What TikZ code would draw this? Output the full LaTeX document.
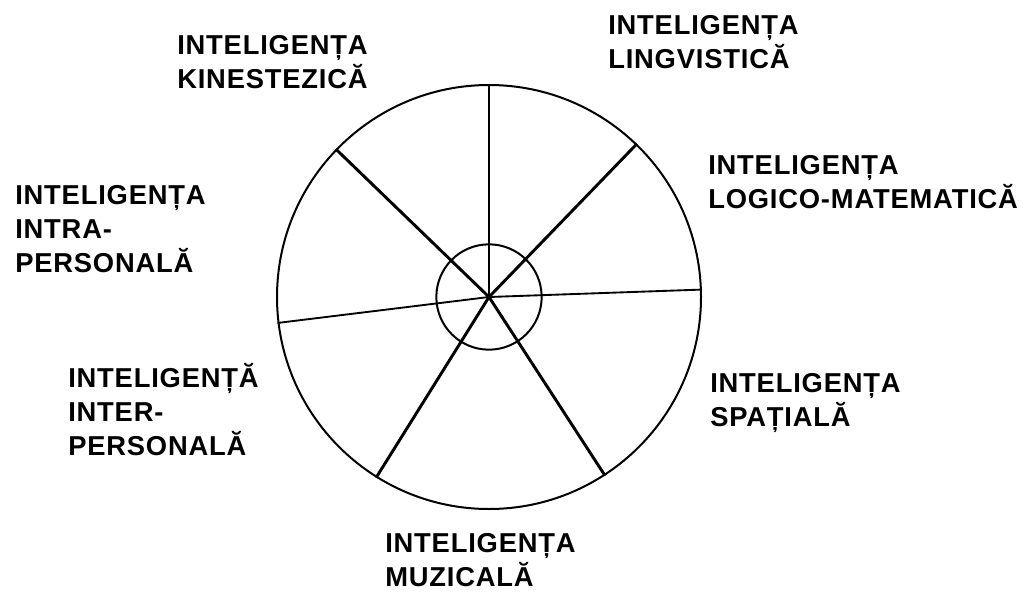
\documentclass[tikz,border=0pt]{standalone}
\usepackage{fontspec}
\newfontfamily\lblfont[LetterSpace=3]{Liberation Sans}
\begin{document}
\begin{tikzpicture}[x=0.75pt,y=-0.75pt,
  lbl/.style={anchor=north west, inner sep=0pt, align=left,
    font=\lblfont\bfseries\fontsize{20.5}{25.5}\selectfont},
  rim/.style={draw, circle, inner sep=0pt, line width=1.5pt},
  thinspoke/.style={line width=1.4pt},
  thickspoke/.style={line width=2.2pt}]
\useasboundingbox (0,0) rectangle (1031,596);
\node[rim, minimum size=318pt] (outer) at (489,297) {};
\node[rim, minimum size=79pt] (inner) at (489,297) {};
\draw[line width=1.2pt] (outer.center) -- (outer.90);
\draw[thickspoke] (outer.center) -- (outer.46.6);
\draw[thinspoke] (outer.center) -- (outer.2.4);
\draw[thickspoke] (outer.center) -- (outer.-57.4);
\draw[thickspoke] (outer.center) -- (outer.-122.3);
\draw[thinspoke] (outer.center) -- (outer.187.4);
\draw[thickspoke] (outer.center) -- (outer.136.9);
\node[lbl] (kin) at (177,35) {INTELIGENȚA\\KINESTEZICĂ};
\node[lbl] (lin) at (608,15) {INTELIGENȚA\\LINGVISTICĂ};
\node[lbl] (log) at (708,155) {INTELIGENȚA\\LOGICO-MATEMATICĂ};
\node[lbl] (intra) at (15,185) {INTELIGENȚA\\INTRA-\\PERSONALĂ};
\node[lbl] (inter) at (68,363) {INTELIGENȚĂ\\INTER-\\PERSONALĂ};
\node[lbl] (spa) at (710,373) {INTELIGENȚA\\SPAȚIALĂ};
\node[lbl] (muz) at (385,533) {INTELIGENȚA\\MUZICALĂ};
\end{tikzpicture}
\end{document}
